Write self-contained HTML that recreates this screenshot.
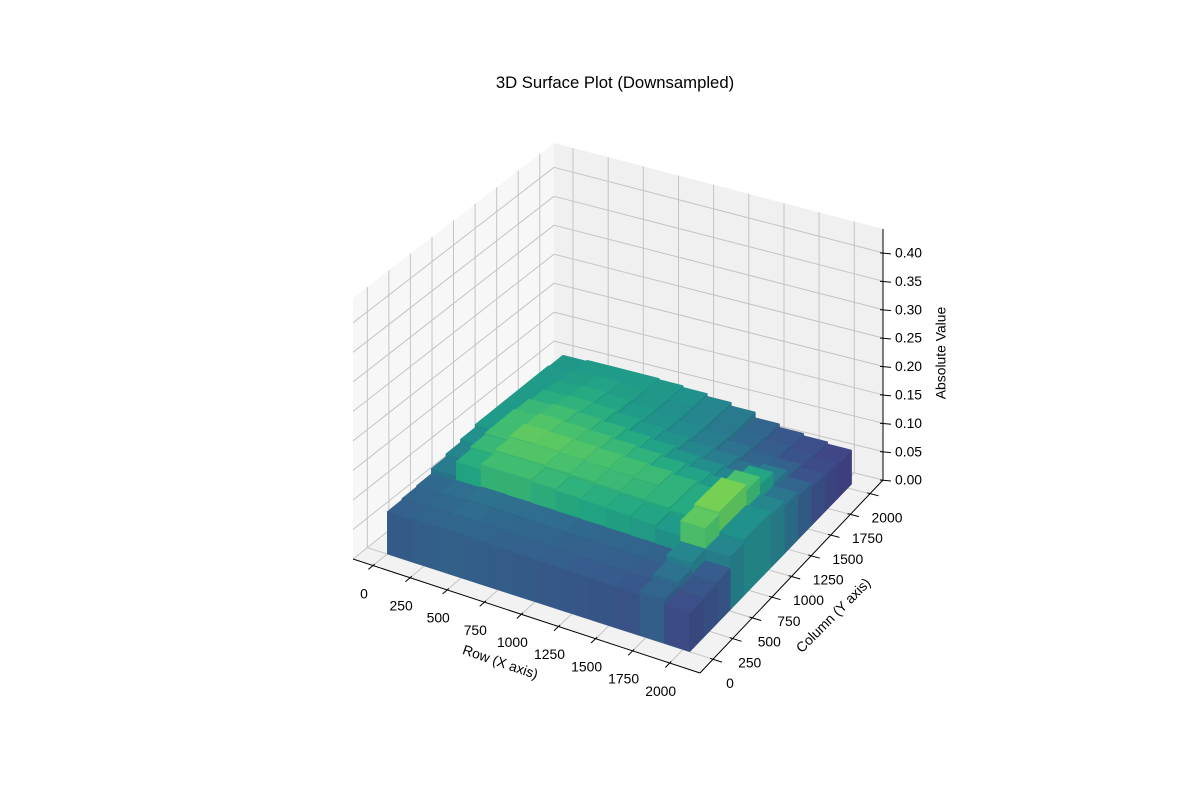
<!DOCTYPE html>
<html><head><meta charset="utf-8"><style>
html,body{margin:0;padding:0;background:#fff;}
svg{display:block;font-family:"Liberation Sans","DejaVu Sans",sans-serif;}
</style></head><body>
<svg id="chart" width="1200" height="800" viewBox="0 0 1200 800" xmlns="http://www.w3.org/2000/svg">
<rect width="1200" height="800" fill="#fff"/>
<text x="615" y="88" font-size="16.7" text-anchor="middle" fill="#000">3D Surface Plot (Downsampled)</text>
<g id="panes"></g><g id="grid"></g><g id="surface"></g><g id="axes"></g>
<text x="0" y="0" font-size="13.9" text-anchor="middle" dominant-baseline="middle" transform="translate(500,663) rotate(19)">Row (X axis)</text>
<text x="0" y="0" font-size="13.9" text-anchor="middle" dominant-baseline="middle" transform="translate(834,616) rotate(-45)">Column (Y axis)</text>
<text x="0" y="0" font-size="13.9" text-anchor="middle" dominant-baseline="middle" transform="translate(942,353) rotate(-90)">Absolute Value</text>
</svg>
<script>
// ---- data ----
const xTicks = [0,250,500,750,1000,1250,1500,1750,2000];
const yTicks = [0,250,500,750,1000,1250,1500,1750,2000];
const zTicks = [0,0.05,0.10,0.15,0.20,0.25,0.30,0.35,0.40];
const zTickLabels = ["0.00","0.05","0.10","0.15","0.20","0.25","0.30","0.35","0.40"];
const rowEdges = [0,171,341,512,683,853,1024,1195,1365,1536,1707,1877,2047];
const colEdges = [0,171,341,512,683,853,1024,1195,1365,1536,1707,1877,2047];
const values = [
[.072,.074,.076,.085,.090,.095,.100,.100,.100,.100,.100,.098],
[.074,.076,.078,.110,.115,.118,.118,.115,.110,.105,.102,.100],
[.075,.077,.080,.118,.122,.125,.122,.118,.112,.108,.104,.100],
[.074,.076,.079,.118,.122,.124,.120,.115,.110,.105,.102,.100],
[.073,.075,.078,.115,.120,.122,.118,.112,.105,.100,.098,.098],
[.072,.074,.077,.112,.118,.120,.115,.108,.100,.096,.094,.095],
[.071,.073,.076,.110,.116,.118,.112,.104,.096,.092,.090,.090],
[.070,.072,.075,.108,.114,.116,.108,.098,.090,.086,.084,.084],
[.069,.071,.074,.105,.112,.112,.104,.094,.086,.080,.076,.074],
[.068,.070,.073,.100,.108,.108,.100,.090,.080,.074,.070,.068],
[.074,.080,.090,.125,.130,.130,.120,.105,.085,.072,.066,.064],
[.064,.067,.070,.090,.095,.095,.090,.082,.074,.066,.062,.060]
];
// ---- projection ----
const XMIN=-135,XMAX=2204,YMIN=-166,YMAX=2165,ZMIN=0,ZMAX=0.442,CMIN=0.035,CMAX=0.155;
const FL=[353,559],FR=[700,673],BR=[883,480],BL=[554,399];
const HFL=261,HFR=268,HBR=251,HBL=256;
function P(x,y,z){
  const u=(x-XMIN)/(XMAX-XMIN), v=(y-YMIN)/(YMAX-YMIN);
  const a=(1-u)*(1-v),b=u*(1-v),c=u*v,d=(1-u)*v;
  const px=a*FL[0]+b*FR[0]+c*BR[0]+d*BL[0];
  const py=a*FL[1]+b*FR[1]+c*BR[1]+d*BL[1];
  const h=a*HFL+b*HFR+c*HBR+d*HBL;
  return [px, py-(z-ZMIN)/(ZMAX-ZMIN)*h];
}
const NS="http://www.w3.org/2000/svg";
function mk(tag,parent,attrs){const e=document.createElementNS(NS,tag);for(const k in attrs)e.setAttribute(k,attrs[k]);parent.appendChild(e);return e;}
function pts(a){return a.map(p=>p[0].toFixed(1)+","+p[1].toFixed(1)).join(" ");}
const stops=["#440154","#482475","#414487","#355f8d","#2a788e","#21918c","#22a884","#44bf70","#7ad151","#bddf26","#fde725"];
function hex(c){return [1,3,5].map(i=>parseInt(c.substr(i,2),16));}
function viridis(t,shade){t=Math.max(0,Math.min(1,t));const f=t*10,i=Math.min(9,Math.floor(f)),r=f-i;
  const A=hex(stops[i]),B=hex(stops[i+1]);return "rgb("+A.map((x,k)=>Math.round((x+(B[k]-x)*r)*shade)).join(",")+")";}
const panes=document.getElementById('panes'),grid=document.getElementById('grid'),surf=document.getElementById('surface'),axes=document.getElementById('axes');
let e;
e=mk('polygon',panes,{points:pts([P(XMIN,YMIN,0),P(XMIN,YMAX,0),P(XMIN,YMAX,ZMAX),P(XMIN,YMIN,ZMAX)]),fill:'#f7f7f7'});

e=mk('polygon',panes,{points:pts([P(XMIN,YMAX,0),P(XMAX,YMAX,0),P(XMAX,YMAX,ZMAX),P(XMIN,YMAX,ZMAX)]),fill:'#f0f0f0'});

e=mk('polygon',panes,{points:pts([P(XMIN,YMIN,0),P(XMAX,YMIN,0),P(XMAX,YMAX,0),P(XMIN,YMAX,0)]),fill:'#f2f2f2'});

const gs={stroke:'#c4c4c4','stroke-width':1,fill:'none'};
function gl(pa,pb,name){const l=mk('polyline',grid,Object.assign({points:pts([pa,pb])},gs));}
xTicks.forEach(x=>{gl(P(x,YMIN,0),P(x,YMAX,0),'x-gridline');gl(P(x,YMAX,0),P(x,YMAX,ZMAX),'x-gridline');});
yTicks.forEach(y=>{gl(P(XMIN,y,0),P(XMAX,y,0),'y-gridline');gl(P(XMIN,y,0),P(XMIN,y,ZMAX),'y-gridline');});
zTicks.forEach(z=>{gl(P(XMIN,YMIN,z),P(XMIN,YMAX,z),'z-gridline');gl(P(XMIN,YMAX,z),P(XMAX,YMAX,z),'z-gridline');});
const cells=[];
for(let i=0;i<values.length;i++)for(let j=0;j<values[i].length;j++)cells.push([i,j]);
cells.sort((a,b)=>(0.5*a[0]-0.87*a[1])-(0.5*b[0]-0.87*b[1]));
cells.forEach(([i,j])=>{
  const v=values[i][j],x0=rowEdges[i],x1=rowEdges[i+1],y0=colEdges[j],y1=colEdges[j+1];
  const t=(v-CMIN)/(CMAX-CMIN);
  const cf=viridis(t*0.95,0.97),cs=viridis(t*0.95,0.93),ct=viridis(t,1);
  const front=mk('polygon',surf,{points:pts([P(x0,y0,0),P(x1,y0,0),P(x1,y0,v),P(x0,y0,v)]),fill:cf,stroke:cf,'stroke-width':0.5});
  
  
  const side=mk('polygon',surf,{points:pts([P(x1,y0,0),P(x1,y1,0),P(x1,y1,v),P(x1,y0,v)]),fill:cs,stroke:cs,'stroke-width':0.5});
  
  
  const top=mk('polygon',surf,{points:pts([P(x0,y0,v),P(x1,y0,v),P(x1,y1,v),P(x0,y1,v)]),fill:ct,stroke:ct,'stroke-width':0.5});
  
  
});
const as={stroke:'#000','stroke-width':1,fill:'none'};
e=mk('polyline',axes,Object.assign({points:pts([P(XMIN,YMIN,0),P(XMAX,YMIN,0)])},as));

e=mk('polyline',axes,Object.assign({points:pts([P(XMAX,YMIN,0),P(XMAX,YMAX,0)])},as));

e=mk('polyline',axes,Object.assign({points:pts([P(XMAX,YMAX,0),P(XMAX,YMAX,ZMAX)])},as));

function txt(x,y,s,anchor){const t=mk('text',axes,{x:x.toFixed(1),y:y.toFixed(1),'font-size':13.9,'text-anchor':anchor,'dominant-baseline':'middle',fill:'#000'});t.textContent=s;return t;}
xTicks.forEach(x=>{
  const q=P(x,YMIN-55,0),r=P(x,YMIN+20,0),p=P(x,YMIN,0);
  const tk=mk('polyline',axes,Object.assign({points:pts([r,q])},as));
  
  const lb=txt(p[0]-9,p[1]+29,String(x),'middle');
  
});
yTicks.forEach(y=>{
  const p=P(XMAX,y,0),q=P(XMAX+60,y,0),r=P(XMAX-20,y,0);
  const tk=mk('polyline',axes,Object.assign({points:pts([r,q])},as));
  
  const lb=txt(p[0]+17,p[1]+25,String(y),'middle');
  
});
zTicks.forEach((z,k)=>{
  const p=P(XMAX,YMAX,z);
  const tk=mk('polyline',axes,Object.assign({points:pts([[p[0]-3,p[1]],[p[0]+8,p[1]+1]])},as));
  
  const lb=txt(p[0]+12,p[1]+1,zTickLabels[k],'start');
  
});
</script>
</body></html>
